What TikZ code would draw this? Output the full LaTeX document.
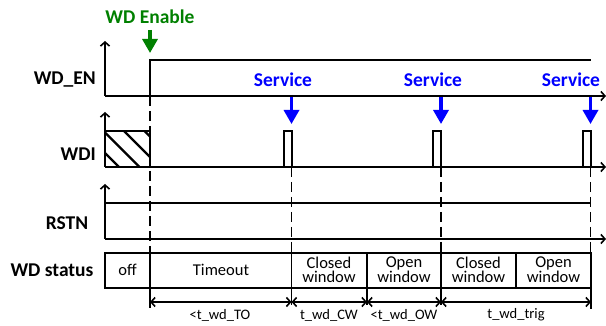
\documentclass[tikz,border=0pt]{standalone}
\usepackage{fontspec}
\setmainfont{Carlito}
\usetikzlibrary{arrows.meta}
\definecolor{wdgreen}{RGB}{0,128,0}
\definecolor{svblue}{RGB}{0,0,255}
\begin{document}
\begin{tikzpicture}[x=1pt,y=-1pt,
  sig/.style={line width=1.8pt},
  axisline/.style={line width=1.6pt, -{Straight Barb[length=4pt,width=9pt]}},
  guide/.style={line width=1.6pt, dash pattern=on 10pt off 5pt},
  lbl/.style={font=\bfseries\fontsize{19.5}{22}\selectfont, inner sep=0},
  stat/.style={font=\fontsize{16.5}{14}\selectfont, align=center, inner sep=0},
  dimtxt/.style={font=\fontsize{14.5}{16}\selectfont, inner sep=0},
  bigarrow/.style={line width=3.3pt, -{Triangle[length=14pt,width=15pt]}},
  boxline/.style={line width=1.5pt},
  dimline/.style={line width=1.6pt, {Straight Barb[length=4pt,width=9pt]}-{Straight Barb[length=4pt,width=9pt]}},
]
\useasboundingbox (0,0) rectangle (606,326);
% ---- labels ----
\node[lbl, anchor=east] (lEN) at (96,80) {WD\_EN};
\node[lbl, anchor=east] (lWDI) at (96,154) {WDI};
\node[lbl] (lRST) at (67,223) {RSTN};
\node[lbl] (lST) at (52,270) {WD status};
% ---- WD Enable ----
\node[lbl, text=wdgreen] (en) at (150,17) {WD Enable};
\coordinate (enA) at (150,30);
\coordinate (enB) at (150,53);
\draw[bigarrow, draw=wdgreen, color=wdgreen] (enA) -- (enB);
% ---- Service ----
\foreach \tx/\ax/\n in {283/291.5/1, 433/441/2, 571/590.5/3}{
  \node[lbl, text=svblue] (sv\n) at (\tx,80) {Service};
  \coordinate (svA\n) at (\ax,95);
  \coordinate (svB\n) at (\ax,124);
  \draw[bigarrow, draw=svblue, color=svblue] (svA\n) -- (svB\n);
}
% ---- WD_EN ----
\coordinate (o1) at (105,96);
\draw[axisline] (o1) -- (105,41);
\draw[axisline] (o1) -- (606,96);
\draw[sig] (150,96) -- (150,60) -- (591,60);
% ---- WDI ----
\coordinate (o2) at (105,167);
\draw[axisline] (o2) -- (105,112);
\draw[axisline] (o2) -- (606,167);
\begin{scope}
  \clip (105,131) rectangle (150,167);
  \foreach \c in {-48,-27.5,-7,13.5}
    \draw[line width=2.3pt] (75,{75-\c}) -- ++(90,90);
\end{scope}
\draw[sig] (105,131) -- (150,131) -- (150,167);
\foreach \x in {284,433,583}
  \draw[sig] (\x,167) -- (\x,131) -- ({\x+8},131) -- ({\x+8},167);
% ---- RSTN ----
\coordinate (o3) at (105,239);
\draw[axisline] (o3) -- (105,184);
\draw[axisline] (o3) -- (606,239);
\draw[sig] (105,203) -- (591,203);
% ---- guides ----
\draw[guide] (150,96) -- (150,253);
\draw[guide] (291.5,167) -- (291.5,253);
\draw[guide] (441,167) -- (441,253);
\draw[guide] (590.5,167) -- (590.5,253);
% ---- status boxes ----
\draw[boxline] (105,253) rectangle (591,288);
\foreach \x in {150,291.5,367,441,516}
  \draw[boxline] (\x,253) -- (\x,288);
\node[stat] (s0) at (127.5,270) {off};
\node[stat] (s1) at (221,270) {Timeout};
\node[stat] (s2) at (329,270) {Closed\\window};
\node[stat] (s3) at (404,270) {Open\\window};
\node[stat] (s4) at (478.5,270) {Closed\\window};
\node[stat] (s5) at (553.5,270) {Open\\window};
% ---- dimensions ----
\foreach \x/\e in {150/308,291.5/305,367/305,441/305,591/309}
  \draw[boxline] (\x,288) -- (\x,\e);
\coordinate (d0) at (150,302);
\coordinate (d1) at (291.5,302);
\coordinate (d2) at (367,302);
\coordinate (d3) at (441,302);
\coordinate (d4) at (591,302);
\draw[dimline] (d0) -- (d1);
\draw[dimline] (d1) -- (d2);
\draw[dimline] (d2) -- (d3);
\draw[dimline] (d3) -- (d4);
\node[dimtxt] (t0) at (220,315) {<t\_wd\_TO};
\node[dimtxt] (t1) at (329,315) {t\_wd\_CW};
\node[dimtxt] (t2) at (404,315) {<t\_wd\_OW};
\node[dimtxt] (t3) at (516,315) {t\_wd\_trig};
\end{tikzpicture}
\end{document}
